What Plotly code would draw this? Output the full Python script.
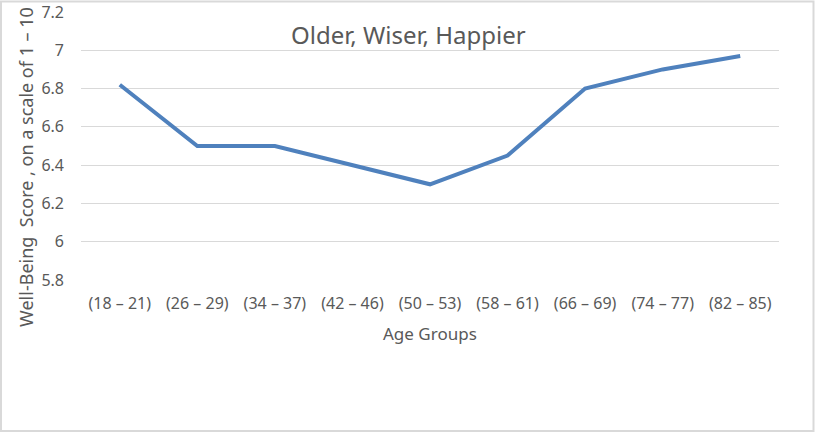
import plotly.graph_objects as go

age_groups = ["(18 – 21)", "(26 – 29)", "(34 – 37)", "(42 – 46)", "(50 – 53)",
              "(58 – 61)", "(66 – 69)", "(74 – 77)", "(82 – 85)"]
wellbeing = [6.82, 6.50, 6.50, 6.40, 6.30, 6.45, 6.80, 6.90, 6.97]
y_ticks = [5.8, 6.0, 6.2, 6.4, 6.6, 6.8, 7.0, 7.2]
y_tick_text = ["5.8", "6", "6.2", "6.4", "6.6", "6.8", "7", "7.2"]

W, H = 816, 434
L, R, T, B = 81, 779, 11.5, 280.5
FONT = "Noto Sans"
GREY = "#595959"

fig = go.Figure()
fig.add_trace(go.Scatter(
    x=list(range(len(age_groups))), y=wellbeing, mode="lines",
    line=dict(color="#4F81BD", width=4), hoverinfo="skip", showlegend=False))

def px(x):
    return (x - L) / (R - L)

def py(y):
    return (B - y) / (B - T)

fig.update_layout(
    width=W, height=H,
    margin=dict(l=L, r=W - R, t=T, b=H - B, pad=0, autoexpand=False),
    paper_bgcolor="white", plot_bgcolor="white",
    font=dict(family=FONT, color=GREY, size=16),
    xaxis=dict(range=[-0.5, len(age_groups) - 0.5], tickmode="array",
               tickvals=list(range(len(age_groups))), ticktext=age_groups,
               showgrid=False, zeroline=False, showline=False, ticks="",
               automargin=False,
               ticklabelstandoff=12, tickfont=dict(size=16, color=GREY)),
    yaxis=dict(range=[5.8, 7.2], tickmode="array", tickvals=y_ticks,
               ticktext=y_tick_text, showgrid=True, gridcolor="#d9d9d9",
               gridwidth=1, zeroline=False, showline=False, ticks="",
               automargin=False,
               ticklabelstandoff=16, tickfont=dict(size=16, color=GREY)),
    annotations=[
        dict(text="Older, Wiser, Happier", x=px(408), y=py(34), xref="paper",
             yref="paper", showarrow=False, xanchor="center", yanchor="middle",
             font=dict(size=24, color=GREY, family=FONT)),
        dict(text="Age Groups", x=px(430), y=py(334), xref="paper",
             yref="paper", showarrow=False, xanchor="center", yanchor="middle",
             font=dict(size=17, color=GREY, family=FONT)),
        dict(text="Well-Being  Score , on a scale of 1 – 10", x=px(26),
             y=py(167), xref="paper", yref="paper", showarrow=False,
             xanchor="center", yanchor="middle", textangle=-90,
             font=dict(size=18, color=GREY, family=FONT)),
    ],
    shapes=[dict(type="rect", xref="paper", yref="paper",
                 x0=px(1), x1=px(W - 2.5), y0=py(H - 2), y1=py(1),
                 line=dict(color="#d9d9d9", width=2), layer="below")],
)

fig.write_html("out.html")
